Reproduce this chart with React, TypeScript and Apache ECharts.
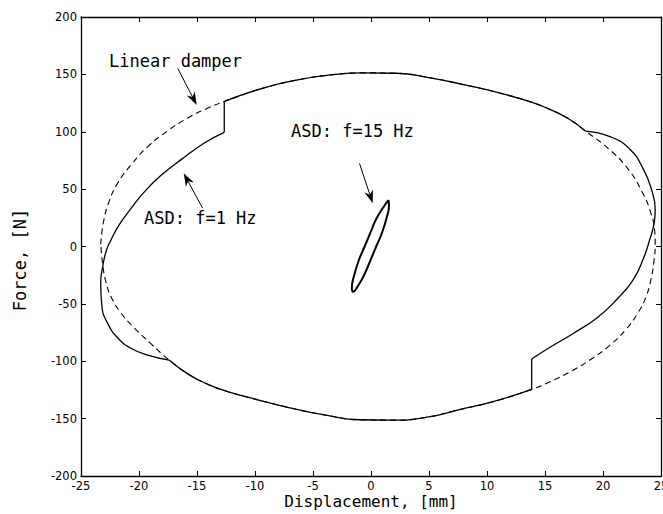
import React, { useEffect, useRef } from "react";
import * as echarts from "echarts";

// Linear damper (dashed) loop: [displacement mm, force N]
const linearDamper: number[][] = [
  [-23.3, 2], [-23.05, 22], [-22.55, 40], [-21.85, 55], [-20.7, 71], [-19.25, 87], [-17.5, 101], [-15.8, 112], [-14.1, 120.5], [-12.6, 126.5],
  [-9.3, 138], [-6.4, 145], [-3.5, 149.5], [-0.6, 151.3], [2.2, 151], [5.1, 147], [8.0, 141], [10.8, 134.5], [13.7, 126.2],
  [15.3, 120], [17.0, 111.5], [18.5, 100.5], [20.5, 85], [22.2, 67], [23.4, 47], [24.1, 30], [24.45, 14], [24.5, 2],
  [24.4, -12], [24.15, -28], [23.7, -44], [23.0, -58], [22.0, -72], [20.6, -86], [19.0, -98], [17.2, -109], [15.4, -118], [13.85, -124.5],
  [10.6, -135], [7.7, -142], [4.7, -149], [1.8, -151.3], [-1.0, -151], [-3.9, -147], [-6.8, -141], [-9.6, -134], [-12.5, -126],
  [-14.1, -120], [-15.8, -111], [-17.4, -99], [-19.0, -84.5], [-20.4, -71], [-21.55, -58], [-22.4, -44], [-22.85, -31], [-23.1, -18], [-23.3, 2],
];

// ASD f=1 Hz (solid) pieces
const asdTop: number[][] = [
  [-12.65, 126.5], [-9.3, 138], [-6.4, 145], [-3.5, 149.5], [-0.6, 151.3], [2.2, 151], [5.1, 147], [8.0, 141], [10.8, 134.5], [13.7, 126.2],
  [15.3, 120], [17.0, 111.5], [18.5, 100.5],
];
const asdRight: number[][] = [
  [18.5, 100.5], [20.6, 95.7], [22.3, 85], [23.5, 67], [24.2, 49], [24.5, 32], [24.4, 20], [24.0, 5], [23.5, -10], [22.6, -29],
  [21.2, -46], [19.5, -62], [17.4, -76], [15.4, -88], [13.85, -98],
];
const asdKneeRight: number[][] = [[13.85, -98], [13.85, -124.5]];
const asdBottom: number[][] = [
  [13.85, -124.5], [10.6, -135], [7.7, -142], [4.7, -149], [1.8, -151.3], [-1.0, -151], [-3.9, -147], [-6.8, -141], [-9.6, -134],
  [-12.5, -126], [-14.1, -120], [-15.8, -111], [-17.4, -99],
];
const asdLeft: number[][] = [
  [-17.4, -99], [-19.25, -94.6], [-20.7, -88.7], [-21.8, -80], [-22.7, -67], [-23.2, -52], [-23.3, -32], [-23.1, -16], [-22.8, -3],
  [-22.4, 6], [-21.7, 19], [-20.7, 33], [-19.5, 48], [-18.1, 62], [-16.4, 75.5], [-14.4, 90], [-12.65, 99.5],
];
const asdKneeLeft: number[][] = [[-12.65, 99.5], [-12.65, 126.5]];

// ASD f=15 Hz (thin loop)
const asd15: number[][] = [
  [1.5, 40.5], [1.55, 36], [1.35, 25], [0.95, 12], [0.45, 0], [-0.05, -12], [-0.55, -24], [-1.1, -34], [-1.55, -39.5],
  [-1.65, -36], [-1.45, -25], [-1.05, -12], [-0.55, 0], [-0.05, 12], [0.45, 24], [1.05, 34], [1.5, 40.5],
];

const xTitle = "Displacement, [mm]";
const yTitle = "Force, [N]";
const labels = ["Linear damper", "ASD: f=15 Hz", "ASD: f=1 Hz"];

const MONO = "DejaVu Sans Mono";
const SMOOTH = 0.5;

function arrow(sx: number, sy: number, tx: number, ty: number) {
  const dx = tx - sx, dy = ty - sy;
  const len = Math.hypot(dx, dy);
  const ux = dx / len, uy = dy / len;
  const nx = -uy, ny = ux;
  const L = 13, W = 9;
  const bx = tx - ux * L, by = ty - uy * L;
  const notchX = tx - ux * L * 0.7, notchY = ty - uy * L * 0.7;
  return [
    { type: "line", shape: { x1: sx, y1: sy, x2: notchX, y2: notchY }, style: { stroke: "#000", lineWidth: 1 }, silent: true },
    {
      type: "polygon",
      shape: { points: [[tx, ty], [bx + nx * W / 2, by + ny * W / 2], [notchX, notchY], [bx - nx * W / 2, by - ny * W / 2]] },
      style: { fill: "#000" },
      silent: true,
    },
  ];
}

export default function App() {
  const ref = useRef<HTMLDivElement>(null);
  useEffect(() => {
    if (!ref.current) return;
    const chart = echarts.init(ref.current, null, { renderer: "svg" });
    const axisLine = { show: true, onZero: false, lineStyle: { color: "#000", width: 1.3 } };
    const axisTick = { show: true, inside: true, length: 5, lineStyle: { color: "#000", width: 1 } };
    const tickLabel = { color: "#000", fontSize: 11.5, fontFamily: "DejaVu Sans", margin: 4, showMinLabel: true, showMaxLabel: true };
    const solid = (data: number[][], smooth: boolean | number) => ({
      type: "line",
      data,
      smooth,
      symbol: "none",
      lineStyle: { color: "#000", width: 1.3 },
      silent: true,
      z: 3,
    });
    chart.setOption({
      animation: false,
      backgroundColor: "#fff",
      grid: { left: 81, top: 17, width: 580, height: 459, containLabel: false, outerBoundsMode: "none" },
      xAxis: [
        { type: "value", min: -25, max: 25, interval: 5, position: "bottom", axisLine, axisTick, axisLabel: tickLabel, splitLine: { show: false } },
        { type: "value", min: -25, max: 25, interval: 5, position: "top", axisLine, axisTick, axisLabel: { show: false }, splitLine: { show: false } },
      ],
      yAxis: [
        { type: "value", min: -200, max: 200, interval: 50, position: "left", axisLine, axisTick, axisLabel: tickLabel, splitLine: { show: false } },
        { type: "value", min: -200, max: 200, interval: 50, position: "right", axisLine, axisTick, axisLabel: { show: false }, splitLine: { show: false } },
      ],
      series: [
        {
          type: "line",
          data: linearDamper,
          smooth: SMOOTH,
          symbol: "none",
          lineStyle: { color: "#000", width: 1.1, type: [6, 4] },
          silent: true,
          z: 2,
        },
        solid(asdTop, SMOOTH),
        solid(asdRight, SMOOTH),
        solid(asdKneeRight, false),
        solid(asdBottom, SMOOTH),
        solid(asdLeft, SMOOTH),
        solid(asdKneeLeft, false),
        { ...solid(asd15, SMOOTH), lineStyle: { color: "#000", width: 2 } },
      ],
      graphic: [
        { type: "text", x: 109, y: 61, style: { text: labels[0], font: `17px '${MONO}'`, fill: "#000", textAlign: "left", textVerticalAlign: "middle" }, silent: true },
        { type: "text", x: 291, y: 131, style: { text: labels[1], font: `17px '${MONO}'`, fill: "#000", textAlign: "left", textVerticalAlign: "middle" }, silent: true },
        { type: "text", x: 144, y: 218, style: { text: labels[2], font: `17px '${MONO}'`, fill: "#000", textAlign: "left", textVerticalAlign: "middle" }, silent: true },
        { type: "text", x: 371, y: 501, style: { text: xTitle, font: `16px '${MONO}'`, fill: "#000", textAlign: "center", textVerticalAlign: "middle" }, silent: true },
        { type: "text", x: 20, y: 260, rotation: Math.PI / 2, style: { text: yTitle, font: `17px '${MONO}'`, fill: "#000", textAlign: "center", textVerticalAlign: "middle" }, silent: true },
        ...arrow(177.7, 68.3, 196.7, 105),
        ...arrow(359.5, 163.4, 372.7, 203.3),
        ...arrow(202.7, 208.3, 183.7, 173.3),
      ],
    });
    return () => chart.dispose();
  }, []);
  return <div ref={ref} style={{ position: "fixed", left: 0, top: 0, width: 663, height: 514, background: "#fff" }} />;
}
